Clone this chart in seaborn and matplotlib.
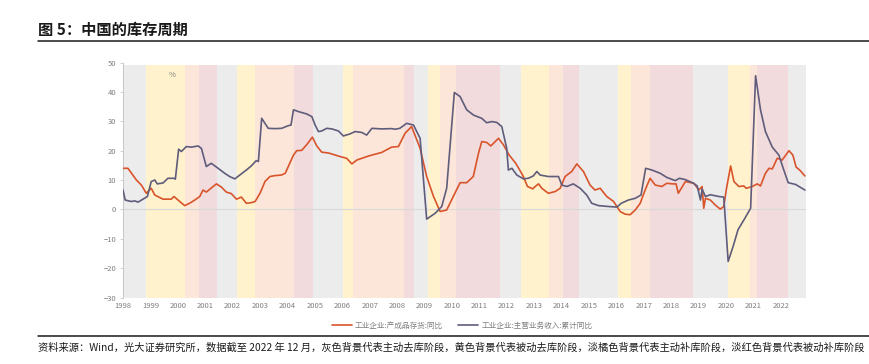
import numpy as np
import pandas as pd
import seaborn as sns
import matplotlib.pyplot as plt
from matplotlib.lines import Line2D

# 工业企业:产成品存货:同比 (year fraction, %)
inv_x = [1998.0, 1998.18, 1998.36, 1998.49, 1998.67, 1998.85, 1999.03, 1999.16, 1999.46, 1999.76,
         1999.86, 2000.07, 2000.25, 2000.43, 2000.62, 2000.8, 2000.92, 2001.04, 2001.22, 2001.41,
         2001.59, 2001.77, 2001.95, 2002.14, 2002.32, 2002.5, 2002.68, 2002.82, 2003.0, 2003.18,
         2003.36, 2003.54, 2003.78, 2003.92, 2004.03, 2004.22, 2004.34, 2004.52, 2004.7, 2004.91,
         2005.07, 2005.25, 2005.5, 2005.74, 2005.92, 2006.16, 2006.35, 2006.53, 2006.71, 2006.9,
         2007.08, 2007.44, 2007.8, 2008.05, 2008.29, 2008.53, 2008.84, 2009.08, 2009.33, 2009.57,
         2009.81, 2010.05, 2010.3, 2010.54, 2010.78, 2010.97, 2011.09, 2011.27, 2011.42, 2011.58,
         2011.7, 2011.88, 2012.09, 2012.33, 2012.58, 2012.76, 2012.95, 2013.04, 2013.16, 2013.28,
         2013.52, 2013.77, 2013.95, 2014.13, 2014.37, 2014.56, 2014.8, 2015.04, 2015.22, 2015.41,
         2015.65, 2015.9, 2016.14, 2016.32, 2016.5, 2016.69, 2016.87, 2017.05, 2017.23, 2017.42,
         2017.66, 2017.84, 2018.04, 2018.18, 2018.26, 2018.52, 2018.83, 2019.01, 2019.13, 2019.19,
         2019.25, 2019.43, 2019.61, 2019.79, 2019.92, 2020.02, 2020.17, 2020.29, 2020.47, 2020.65,
         2020.74, 2020.96, 2021.14, 2021.26, 2021.44, 2021.57, 2021.69, 2021.87, 2022.05, 2022.3,
         2022.44, 2022.56, 2022.69, 2022.88]
inv_y = [14.0, 14.0, 11.7, 10.0, 8.3, 5.5, 7.2, 4.9, 3.5, 3.5,
         4.4, 2.7, 1.3, 2.1, 3.2, 4.4, 6.6, 5.9, 7.3, 8.7,
         7.6, 5.9, 5.4, 3.5, 4.2, 2.1, 2.3, 2.7, 5.5, 9.5,
         11.2, 11.5, 11.7, 12.3, 14.6, 18.5, 20.0, 20.1, 22.0, 24.6,
         21.6, 19.5, 19.2, 18.5, 18.0, 17.4, 15.5, 16.8, 17.4, 18.0,
         18.5, 19.4, 21.2, 21.4, 25.9, 28.2, 20.8, 11.2, 4.4, -0.7,
         -0.2, 4.4, 9.1, 9.1, 11.2, 19.1, 23.1, 22.8, 21.6, 23.1,
         24.2, 22.0, 18.5, 15.7, 11.7, 7.8, 7.0, 7.8, 8.7, 7.2,
         5.5, 6.1, 7.2, 11.2, 12.9, 15.5, 12.9, 8.3, 6.6, 7.2,
         4.4, 2.7, -0.7, -1.6, -1.8, -0.2, 2.1, 6.6, 10.6, 8.3,
         7.8, 8.9, 8.7, 8.7, 5.5, 9.5, 8.9, 6.6, 7.8, 0.4,
         3.8, 3.2, 1.5, 0.1, 1.0, 7.2, 14.8, 9.5, 7.8, 8.0,
         7.2, 7.8, 8.7, 8.0, 12.3, 14.0, 13.8, 17.4, 16.8, 20.0,
         18.5, 14.4, 13.4, 11.4]

# 工业企业:主营业务收入:累计同比
rev_x = [1998.0, 1998.08, 1998.3, 1998.43, 1998.55, 1998.73, 1998.89, 1999.03, 1999.16, 1999.25,
         1999.46, 1999.64, 1999.86, 1999.91, 2000.03, 2000.13, 2000.31, 2000.49, 2000.74, 2000.86,
         2001.04, 2001.22, 2001.47, 2001.71, 2001.89, 2002.08, 2002.26, 2002.5, 2002.68, 2002.86,
         2002.94, 2003.06, 2003.3, 2003.55, 2003.79, 2004.03, 2004.13, 2004.22, 2004.4, 2004.7,
         2004.89, 2005.01, 2005.13, 2005.25, 2005.43, 2005.62, 2005.86, 2006.04, 2006.28, 2006.47,
         2006.71, 2006.89, 2007.08, 2007.44, 2007.8, 2007.93, 2008.1, 2008.35, 2008.6, 2008.84,
         2009.08, 2009.39, 2009.63, 2009.81, 2010.09, 2010.3, 2010.54, 2010.79, 2011.09, 2011.27,
         2011.46, 2011.64, 2011.82, 2012.0, 2012.06, 2012.19, 2012.37, 2012.61, 2012.79, 2012.97,
         2013.1, 2013.22, 2013.52, 2013.89, 2014.01, 2014.19, 2014.43, 2014.68, 2014.92, 2015.1,
         2015.35, 2015.71, 2016.02, 2016.18, 2016.44, 2016.69, 2016.9, 2017.07, 2017.3, 2017.6,
         2017.84, 2018.15, 2018.3, 2018.5, 2018.8, 2018.95, 2019.07, 2019.13, 2019.25, 2019.43,
         2019.74, 2019.92, 2020.08, 2020.26, 2020.44, 2020.69, 2020.9, 2021.08, 2021.26, 2021.44,
         2021.69, 2021.93, 2022.11, 2022.27, 2022.54, 2022.88]
rev_y = [6.6, 3.2, 2.7, 2.9, 2.5, 3.5, 4.4, 9.5, 10.0, 8.7,
         9.0, 10.6, 10.6, 10.3, 20.5, 19.7, 21.4, 21.2, 21.6, 20.8,
         14.6, 15.7, 14.0, 12.3, 11.2, 10.4, 11.7, 13.4, 14.8, 16.6,
         16.3, 31.0, 27.6, 27.5, 27.6, 28.5, 28.7, 33.9, 33.3, 32.5,
         31.6, 28.7, 26.5, 26.7, 27.6, 27.4, 26.7, 25.0, 25.7, 26.5,
         26.2, 25.3, 27.6, 27.4, 27.5, 27.3, 27.6, 29.3, 28.7, 24.2,
         -3.3, -1.3, 1.0, 7.2, 39.8, 38.4, 33.9, 32.1, 31.0, 29.5,
         29.9, 29.6, 28.2, 20.8, 13.4, 14.0, 11.7, 10.4, 10.6, 11.4,
         12.9, 11.7, 11.2, 11.2, 8.3, 7.8, 8.7, 7.2, 4.9, 2.1,
         1.3, 1.0, 0.8, 2.1, 3.2, 3.8, 4.9, 14.0, 13.4, 12.3,
         10.9, 9.8, 10.6, 10.2, 9.0, 8.0, 3.2, 6.9, 4.4, 5.0,
         4.4, 4.2, -17.7, -12.6, -6.9, -3.0, 0.4, 45.5, 33.9, 26.5,
         21.2, 18.5, 13.4, 9.1, 8.5, 6.6]

# 背景阶段: g 主动去库, y 被动去库, o 主动补库, r 被动补库
band_start = [1998.0, 1998.84, 2000.26, 2000.78, 2001.44, 2002.15, 2002.82, 2004.25, 2004.92, 2006.04,
              2006.4, 2008.27, 2008.6, 2009.12, 2009.57, 2010.15, 2011.76, 2012.51, 2013.56, 2014.05,
              2014.63, 2016.05, 2016.53, 2017.23, 2018.81, 2020.09, 2020.88, 2021.13, 2022.28]
band_end = band_start[1:] + [2022.92]
band_phase = ['g', 'y', 'o', 'r', 'g', 'y', 'o', 'r', 'g', 'y',
              'o', 'r', 'g', 'y', 'o', 'r', 'g', 'y', 'o', 'r',
              'g', 'y', 'o', 'r', 'g', 'y', 'o', 'r', 'g']
phase_colors = {'g': '#ececec', 'y': '#fff2cc', 'o': '#fce6d9', 'r': '#f1dbdc'}

years = list(range(1998, 2023))
inv_label = '工业企业:产成品存货:同比'
rev_label = '工业企业:主营业务收入:累计同比'

sns.set_style('white')
plt.rcParams['font.family'] = ['Noto Sans CJK SC', 'DejaVu Sans']

fig = plt.figure(figsize=(8.7, 3.64), dpi=100)
ax = fig.add_axes([123 / 870, 1 - 297.6 / 364, 683 / 870, 235.1 / 364])

for s, e, p in zip(band_start, band_end, band_phase):
    ax.axvspan(s, e, ymin=0, ymax=(49.2 + 30) / 80, color=phase_colors[p], lw=0, zorder=0)

ax.axhline(0, color='#d9d9d9', lw=0.8, zorder=1)

inv_df = pd.DataFrame({'date': inv_x, 'value': inv_y})
rev_df = pd.DataFrame({'date': rev_x, 'value': rev_y})
inv_color = '#d9542b'
rev_color = '#5f5c7c'
sns.lineplot(data=inv_df, x='date', y='value', ax=ax, color=inv_color, lw=1.2, zorder=3)
sns.lineplot(data=rev_df, x='date', y='value', ax=ax, color=rev_color, lw=1.2, zorder=3)

ax.set_xlim(1998.0, 2022.92)
ax.set_ylim(-30, 50)
ax.set_yticks(range(-30, 51, 10))
ax.set_xticks(years)
ax.set_xticklabels([str(y) for y in years])
ax.tick_params(axis='both', labelsize=5.5, colors='#7f7f7f', length=0, pad=3)
ax.tick_params(axis='y', length=2, width=0.5, color='#bfbfbf', left=True)
ax.set_xlabel('')
ax.set_ylabel('')
for side in ['top', 'right', 'bottom']:
    ax.spines[side].set_visible(False)
ax.spines['left'].set_color('#bfbfbf')
ax.spines['left'].set_linewidth(0.6)
ax.text(1999.8, 45.6, '%', fontsize=5.5, color='#7f7f7f', ha='center', va='center')

handles = [Line2D([], [], color=inv_color, lw=1.2), Line2D([], [], color=rev_color, lw=1.2)]
fig.legend(handles, [inv_label, rev_label], loc='center', bbox_to_anchor=(462 / 870, 1 - 326 / 364),
           ncol=2, frameon=False, fontsize=5.5, labelcolor='#7f7f7f',
           handlelength=2.6, columnspacing=2.0, handletextpad=0.4)

fig.text(38 / 870, 1 - 30 / 364, '图 5：中国的库存周期', fontsize=11, fontweight='bold',
         ha='left', va='center', color='#1a1a1a')
fig.add_artist(Line2D([38 / 870, 1.0], [1 - 40.5 / 364] * 2, color='#1a1a1a', lw=1.1))
fig.add_artist(Line2D([38 / 870, 1.0], [1 - 336 / 364] * 2, color='#1a1a1a', lw=1.1))
fig.text(38 / 870, 1 - 347.5 / 364,
         '资料来源：Wind，光大证券研究所，数据截至 2022 年 12 月，灰色背景代表主动去库阶段，黄色背景代表被动去库阶段，'
         '淡橘色背景代表主动补库阶段，淡红色背景代表被动补库阶段',
         fontsize=7.4, ha='left', va='center', color='#1a1a1a')

fig.savefig('out.png', dpi=100)
